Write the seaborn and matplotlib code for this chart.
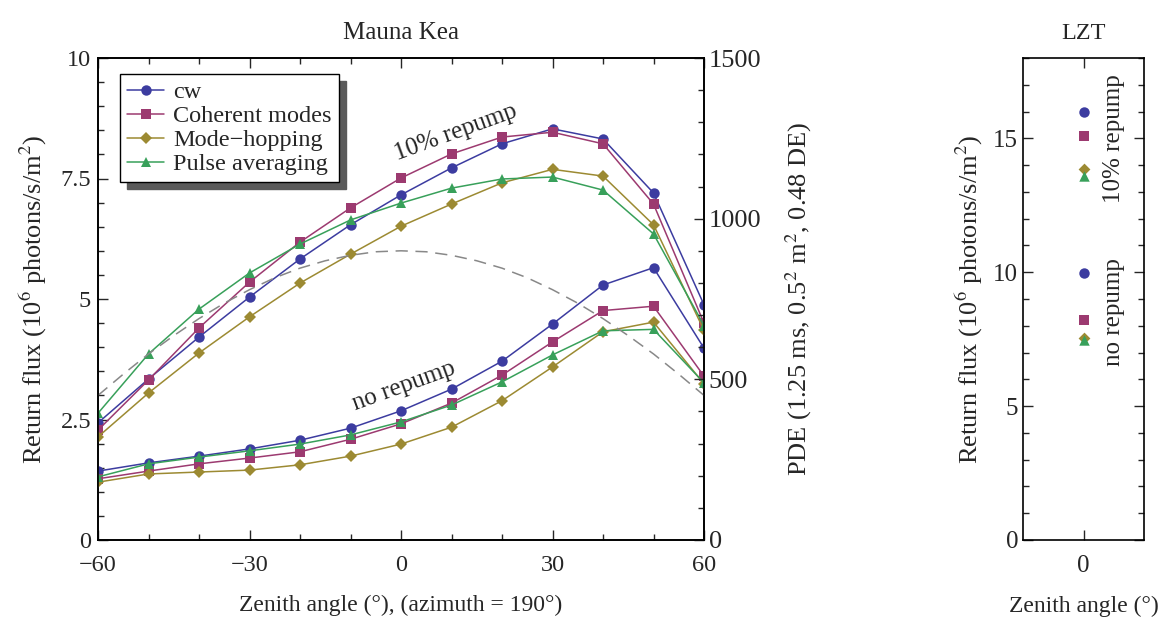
import numpy as np
import pandas as pd
import matplotlib
matplotlib.use("Agg")
import matplotlib.pyplot as plt
import seaborn as sns
from matplotlib.ticker import MultipleLocator

sns.set_theme(style="ticks")
plt.rcParams['font.family'] = ['Liberation Serif', 'DejaVu Serif']
plt.rcParams['mathtext.fontset'] = 'stix'
plt.rcParams['font.size'] = 17

zenith = [-60, -50, -40, -30, -20, -10, 0, 10, 20, 30, 40, 50, 60]
series_names = ["cw", "Coherent modes", "Mode\u2212hopping", "Pulse averaging"]

repump_cw = [2.43, 3.34, 4.21, 5.04, 5.83, 6.54, 7.16, 7.72, 8.22, 8.53, 8.32, 7.20, 4.88]
repump_coh = [2.28, 3.32, 4.40, 5.35, 6.18, 6.89, 7.51, 8.01, 8.36, 8.46, 8.22, 6.97, 4.50]
repump_mh = [2.14, 3.05, 3.88, 4.63, 5.33, 5.93, 6.51, 6.97, 7.41, 7.69, 7.55, 6.54, 4.35]
repump_pa = [2.63, 3.86, 4.79, 5.54, 6.14, 6.64, 6.99, 7.30, 7.49, 7.53, 7.26, 6.35, 4.45]

norep_cw = [1.43, 1.60, 1.74, 1.89, 2.07, 2.32, 2.68, 3.13, 3.71, 4.48, 5.29, 5.65, 3.98]
norep_coh = [1.27, 1.43, 1.58, 1.70, 1.83, 2.09, 2.41, 2.84, 3.42, 4.11, 4.76, 4.85, 3.40]
norep_mh = [1.20, 1.37, 1.41, 1.45, 1.56, 1.74, 1.99, 2.34, 2.89, 3.59, 4.32, 4.52, 3.24]
norep_pa = [1.31, 1.58, 1.72, 1.85, 1.99, 2.18, 2.45, 2.80, 3.28, 3.84, 4.34, 4.37, 3.26]

pde_zenith = [-60, -55, -50, -45, -40, -35, -30, -25, -20, -15, -10, -5, 0,
              5, 10, 15, 20, 25, 30, 35, 40, 45, 50, 55, 60]
pde_values = [450, 516, 579, 636, 689, 737, 779, 816, 846, 869, 886, 897, 900,
              897, 886, 869, 846, 816, 779, 737, 689, 636, 579, 516, 450]

lzt_repump = [16.0, 15.1, 13.85, 13.6]
lzt_norep = [9.96, 8.2, 7.53, 7.48]

colors = ["#3c3ca0", "#9c3a70", "#9c8a32", "#38a05a"]
markers = ["o", "s", "D", "^"]
msizes = [7.5, 7, 6, 7.5]

fig = plt.figure(figsize=(11.72, 6.22), dpi=100)
ax = fig.add_axes([98/1172, 82/622, 606/1172, 482/622])
ax2 = ax.twinx()
axl = fig.add_axes([1023/1172, 82/622, 121/1172, 482/622])

rep = [repump_cw, repump_coh, repump_mh, repump_pa]
nor = [norep_cw, norep_coh, norep_mh, norep_pa]
for i in range(4):
    sns.lineplot(x=zenith, y=rep[i], ax=ax, color=colors[i], marker=markers[i],
                 markersize=msizes[i], markeredgewidth=0, linewidth=1.1,
                 label=series_names[i], zorder=3)
    sns.lineplot(x=zenith, y=nor[i], ax=ax, color=colors[i], marker=markers[i],
                 markersize=msizes[i], markeredgewidth=0, linewidth=1.1,
                 legend=False, zorder=3)

sns.lineplot(x=pde_zenith, y=pde_values, ax=ax2, color="#888888", linewidth=1.1,
             dashes=False, legend=False)
ax2.lines[0].set_linestyle((0, (8, 5)))

ax.set_xlim(-60, 60)
ax.set_ylim(0, 10)
ax2.set_ylim(0, 1500)
ax.set_xticks([-60, -30, 0, 30, 60])
ax.set_xticklabels(["\u221260", "\u221230", "0", "30", "60"])
ax.xaxis.set_minor_locator(MultipleLocator(10))
ax.set_yticks([0, 2.5, 5, 7.5, 10])
ax.set_yticklabels(["0", "2.5", "5", "7.5", "10"])
ax.yaxis.set_minor_locator(MultipleLocator(0.5))
ax2.set_yticks([0, 500, 1000, 1500])
ax2.yaxis.set_minor_locator(MultipleLocator(100))

ax.tick_params(which="both", direction="in", top=True, right=False, labelsize=17.5)
ax.tick_params(which="major", length=7, width=1)
ax.tick_params(which="minor", length=4, width=1)
ax2.tick_params(which="both", direction="in", labelsize=19)
ax2.tick_params(which="major", length=7, width=1)
ax2.tick_params(which="minor", length=4, width=1)
ax.tick_params(axis="x", pad=11)
ax.tick_params(axis="y", pad=5)

ax.set_xlabel("Zenith angle (\u00b0), (azimuth = 190\u00b0)", fontsize=17, labelpad=13)
ax.set_ylabel("Return flux (10$^6$ photons/s/m$^2$)", fontsize=19, labelpad=8)
ax2.set_ylabel("PDE (1.25 ms, 0.5$^2$ m$^2$, 0.48 DE)", fontsize=19, labelpad=16)
ax.set_title("Mauna Kea", fontsize=18, pad=14)

ax.text(10.8, 8.45, "10% repump", rotation=20, fontsize=18, ha="center", va="center")
ax.text(0.6, 3.2, "no repump", rotation=20, fontsize=18, ha="center", va="center")

leg = ax.legend(loc="upper left", bbox_to_anchor=(22/606, 1 - 16/482), borderaxespad=0,
                fontsize=17.5, frameon=True, fancybox=False,
                shadow={"color": "#5a5a5a", "alpha": 1.0, "ox": 5, "oy": -5},
                handlelength=1.5, borderpad=0.3, labelspacing=0.08, handletextpad=0.4)
leg.get_frame().set_edgecolor("black")
leg.get_frame().set_linewidth(1.0)
leg.get_frame().set_alpha(1.0)
leg.set_zorder(10)

for sp in list(ax.spines.values()) + list(ax2.spines.values()):
    sp.set_linewidth(1.2)
    sp.set_color("black")

# LZT panel
lzt_x = [0, 0, 0, 0]
for i in range(4):
    sns.scatterplot(x=[lzt_x[i]], y=[lzt_repump[i]], ax=axl, color=colors[i], marker=markers[i],
                    s=msizes[i]**2, linewidth=0, legend=False, zorder=3)
    sns.scatterplot(x=[lzt_x[i]], y=[lzt_norep[i]], ax=axl, color=colors[i], marker=markers[i],
                    s=msizes[i]**2, linewidth=0, legend=False, zorder=3)
axl.set_xlim(-1, 1)
axl.set_ylim(0, 18)
axl.set_xticks([0])
axl.set_yticks([0, 5, 10, 15])
axl.yaxis.set_minor_locator(MultipleLocator(1))
axl.tick_params(which="both", direction="in", top=True, right=True, labelsize=18)
axl.tick_params(which="major", length=7, width=1)
axl.tick_params(which="minor", length=4, width=1)
axl.tick_params(axis="x", pad=11)
axl.set_xlabel("Zenith angle (\u00b0)", fontsize=17, labelpad=13)
axl.set_ylabel("Return flux (10$^6$ photons/s/m$^2$)", fontsize=19, labelpad=6)
axl.set_title("LZT", fontsize=17.5, pad=14)
axl.text(0.5, 15.0, "10% repump", rotation=90, fontsize=18, ha="center", va="center")
axl.text(0.5, 8.5, "no repump", rotation=90, fontsize=18, ha="center", va="center")
for sp in axl.spines.values():
    sp.set_linewidth(1.2)
    sp.set_color("black")

fig.savefig("out.png", dpi=100, facecolor="white")
